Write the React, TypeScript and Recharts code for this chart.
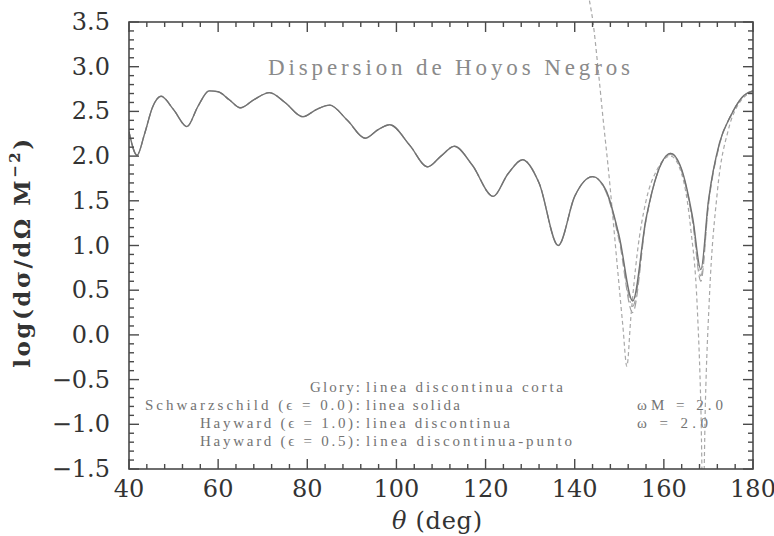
import { LineChart, Line, XAxis, YAxis } from 'recharts'

// theta (deg) grid used by the Schwarzschild / Hayward curves
const theta = [
  40, 41.8, 43.5, 45.3, 47.2, 50, 53, 55.5, 58, 60, 62.5, 65, 68, 71.5, 75, 79, 82, 85, 89, 93,
  96, 98.5, 103, 107, 110, 113, 117, 121.7, 125, 128.3, 132, 136.3, 140, 144, 147, 150, 153,
  156, 158.5, 161.5, 164, 166.5, 168.3, 170, 172.5, 175, 178, 180,
]
const schwarzschild = [
  2.27, 2.01, 2.25, 2.55, 2.67, 2.52, 2.33, 2.56, 2.73, 2.72, 2.63, 2.54, 2.63, 2.71, 2.6, 2.44,
  2.52, 2.57, 2.4, 2.2, 2.3, 2.35, 2.12, 1.88, 2.0, 2.11, 1.9, 1.55, 1.8, 1.96, 1.7, 1.0, 1.55,
  1.77, 1.62, 1.1, 0.38, 1.3, 1.8, 2.03, 1.85, 1.3, 0.73, 1.5, 2.15, 2.45, 2.68, 2.73,
]
const hayward10 = [
  2.27, 2.01, 2.25, 2.55, 2.67, 2.52, 2.33, 2.56, 2.73, 2.72, 2.63, 2.54, 2.63, 2.71, 2.6, 2.44,
  2.52, 2.57, 2.4, 2.2, 2.3, 2.35, 2.12, 1.88, 2.0, 2.11, 1.9, 1.55, 1.8, 1.96, 1.7, 1.0, 1.55,
  1.77, 1.6, 1.05, 0.25, 1.28, 1.8, 2.02, 1.83, 1.25, 0.6, 1.45, 2.13, 2.45, 2.68, 2.73,
]
const hayward05 = [
  2.27, 2.01, 2.25, 2.55, 2.67, 2.52, 2.33, 2.56, 2.73, 2.72, 2.63, 2.54, 2.63, 2.71, 2.6, 2.44,
  2.52, 2.57, 2.4, 2.2, 2.3, 2.35, 2.12, 1.88, 2.0, 2.11, 1.9, 1.55, 1.8, 1.96, 1.7, 1.0, 1.55,
  1.77, 1.61, 1.08, 0.32, 1.29, 1.8, 2.03, 1.84, 1.28, 0.66, 1.48, 2.14, 2.45, 2.68, 2.73,
]

// glory approximation (short dashes), only near backward angles; it enters above the box
const gloryTheta = [
  143.3, 144.1, 145.2, 146.4, 147.5, 149.5, 150.8, 151.7, 152.6, 154, 156, 158.5, 161.5, 164,
  166, 167.5, 168.3, 168.8, 169.3, 170.2, 172, 174.5, 177, 180,
]
const glory = [
  3.74, 3.5, 3.0, 2.4, 1.88, 0.8, 0.1, -0.35, 0.2, 0.9, 1.5, 1.85, 2.0, 1.8, 1.2, 0.3, -0.8,
  -2.0, -0.8, 0.4, 1.6, 2.3, 2.6, 2.72,
]

const xMajor = [40, 60, 80, 100, 120, 140, 160, 180]
const yMajor = [-1.5, -1.0, -0.5, 0.0, 0.5, 1.0, 1.5, 2.0, 2.5, 3.0, 3.5]

const xMinor = Array.from({ length: 36 }, (_, i) => 40 + i * 4)
const yMinor = Array.from({ length: 51 }, (_, i) => Math.round((-1.5 + i * 0.1) * 10) / 10)

const solidData = theta.map((t, i) => ({ t, v: schwarzschild[i] }))
const h10Data = theta.map((t, i) => ({ t, v: hayward10[i] }))
const h05Data = theta.map((t, i) => ({ t, v: hayward05[i] }))
const gloryData = gloryTheta.map((t, i) => ({ t, v: glory[i] }))

const W = 774
const H = 536
// framed box inside the chart
const LEFT = 129
const RIGHT = 21
const TOP = 22
const BOTTOM = 67
const PW = W - LEFT - RIGHT
const PH = H - TOP - BOTTOM
const X0 = 40
const X1 = 180
const Y0 = -1.5
const Y1 = 3.5
// plot area runs to the top and right edges, so stretch the domains to keep
// 40..180 / -1.5..3.5 on the framed box
const X_DOMAIN = [X0, X0 + ((X1 - X0) * (W - LEFT)) / PW]
const Y_DOMAIN = [Y0, Y1 + ((Y1 - Y0) * TOP) / PH]
const sx = (v: number) => LEFT + ((v - X0) / (X1 - X0)) * PW
const sy = (v: number) => TOP + ((Y1 - v) / (Y1 - Y0)) * PH

const AXIS = '#4a4a4a'
const LABEL_FONT = '"DejaVu Serif", serif'
const SERIF = '"Liberation Serif", serif'

const isMajorY = (v: number) => yMajor.some((m) => Math.abs(m - v) < 1e-6)
const isMajorX = (v: number) => xMajor.includes(v)
const fmtY = (v: number) => (v < 0 ? '\u2212' : '') + Math.abs(v).toFixed(1)

function YTick(props: any) {
  return (
    <text x={Number(props.x) - 19} y={Number(props.y) + 8} textAnchor="end"
      fontFamily={LABEL_FONT} fontSize={24} fill="#333">
      {fmtY(props.payload.value)}
    </text>
  )
}

function XTick(props: any) {
  return (
    <text x={Number(props.x)} y={Number(props.y) + 28} textAnchor="middle"
      fontFamily={LABEL_FONT} fontSize={24} fill="#333">
      {props.payload.value}
    </text>
  )
}

// box with inward ticks on all four sides
function Frame() {
  const right = LEFT + PW
  const bottom = TOP + PH
  return (
    <g stroke={AXIS} strokeWidth={1.4} fill="none">
      <rect x={LEFT} y={TOP} width={PW} height={PH} strokeWidth={1.6} />
      {yMinor.map((v) => {
        const len = isMajorY(v) ? 10 : 5
        const y = sy(v)
        return (
          <g key={'y' + v}>
            <line x1={LEFT} y1={y} x2={LEFT + len} y2={y} />
            <line x1={right} y1={y} x2={right - len} y2={y} />
          </g>
        )
      })}
      {xMinor.map((v) => {
        const len = isMajorX(v) ? 10 : 5
        const x = sx(v)
        return (
          <g key={'x' + v}>
            <line x1={x} y1={bottom} x2={x} y2={bottom - len} />
            <line x1={x} y1={TOP} x2={x} y2={TOP + len} />
          </g>
        )
      })}
    </g>
  )
}

export default function App() {
  return (
    <div style={{ position: 'absolute', left: 0, top: 0, width: W, height: H, background: '#fff' }}>
      <LineChart width={W} height={H} margin={{ top: 0, right: 0, left: 0, bottom: 0 }}>
        <XAxis
          dataKey="t" type="number" domain={X_DOMAIN} allowDataOverflow ticks={xMajor} interval={0}
          height={BOTTOM} tickSize={0} tickMargin={0} axisLine={false} tickLine={false}
          tick={<XTick />}
        />
        <XAxis xAxisId="top" orientation="top" type="number" domain={X_DOMAIN} height={TOP} hide />
        <YAxis
          type="number" domain={Y_DOMAIN} allowDataOverflow ticks={yMajor} interval={0} width={LEFT}
          tickSize={0} tickMargin={0} axisLine={false} tickLine={false} tick={<YTick />}
        />
        <YAxis yAxisId="right" orientation="right" type="number" domain={Y_DOMAIN} width={RIGHT} hide />
        <Line data={h05Data} dataKey="v" type="monotone" stroke="#a0a0a0" strokeWidth={1.2}
          strokeDasharray="8 3 2 3" dot={false} isAnimationActive={false} />
        <Line data={h10Data} dataKey="v" type="monotone" stroke="#a0a0a0" strokeWidth={1.2}
          strokeDasharray="8 4" dot={false} isAnimationActive={false} />
        <Line data={gloryData} dataKey="v" type="monotone" stroke="#a8a8a8" strokeWidth={1.2}
          strokeDasharray="4 3" dot={false} isAnimationActive={false} />
        <Line data={solidData} dataKey="v" type="monotone" stroke="#727272" strokeWidth={1.4}
          dot={false} isAnimationActive={false} />
      </LineChart>
      <svg width={W} height={H} style={{ position: 'absolute', left: 0, top: 0, pointerEvents: 'none' }}>
        <Frame />
        <text x={268} y={75} textLength={362} lengthAdjust="spacing" fontFamily={SERIF} fontSize={23} fill="#8a8a8a">
          Dispersion de Hoyos Negros
        </text>
        <g fontFamily={SERIF} fontSize={15} fill="#737373">
          <text x={310} y={392} textLength={50} lengthAdjust="spacing">Glory:</text>
          <text x={366} y={392} textLength={197} lengthAdjust="spacing">linea discontinua corta</text>
          <text x={145} y={410} textLength={215} lengthAdjust="spacing">Schwarzschild (ϵ = 0.0):</text>
          <text x={366} y={410} textLength={94} lengthAdjust="spacing">linea solida</text>
          <text x={200} y={428} textLength={160} lengthAdjust="spacing">Hayward (ϵ = 1.0):</text>
          <text x={366} y={428} textLength={144} lengthAdjust="spacing">linea discontinua</text>
          <text x={200} y={446} textLength={160} lengthAdjust="spacing">Hayward (ϵ = 0.5):</text>
          <text x={366} y={446} textLength={206} lengthAdjust="spacing">linea discontinua-punto</text>
          <text x={637} y={410} textLength={86} lengthAdjust="spacing">ωM = 2.0</text>
          <text x={637} y={428} textLength={71} lengthAdjust="spacing">ω = 2.0</text>
        </g>
        <text x={392} y={529} textLength={90} lengthAdjust="spacing" fontFamily={LABEL_FONT} fontSize={24} fill="#333">
          <tspan fontStyle="italic">θ</tspan> (deg)
        </text>
        <text
          transform="translate(30 252) rotate(-90)" textAnchor="middle" fontFamily={LABEL_FONT}
          fontSize={23} fontWeight="bold" fill="#333" letterSpacing={2.5}
        >
          log(dσ/dΩ M<tspan fontSize={15} dy={-10}>−2</tspan><tspan dy={10}>)</tspan>
        </text>
      </svg>
    </div>
  )
}
